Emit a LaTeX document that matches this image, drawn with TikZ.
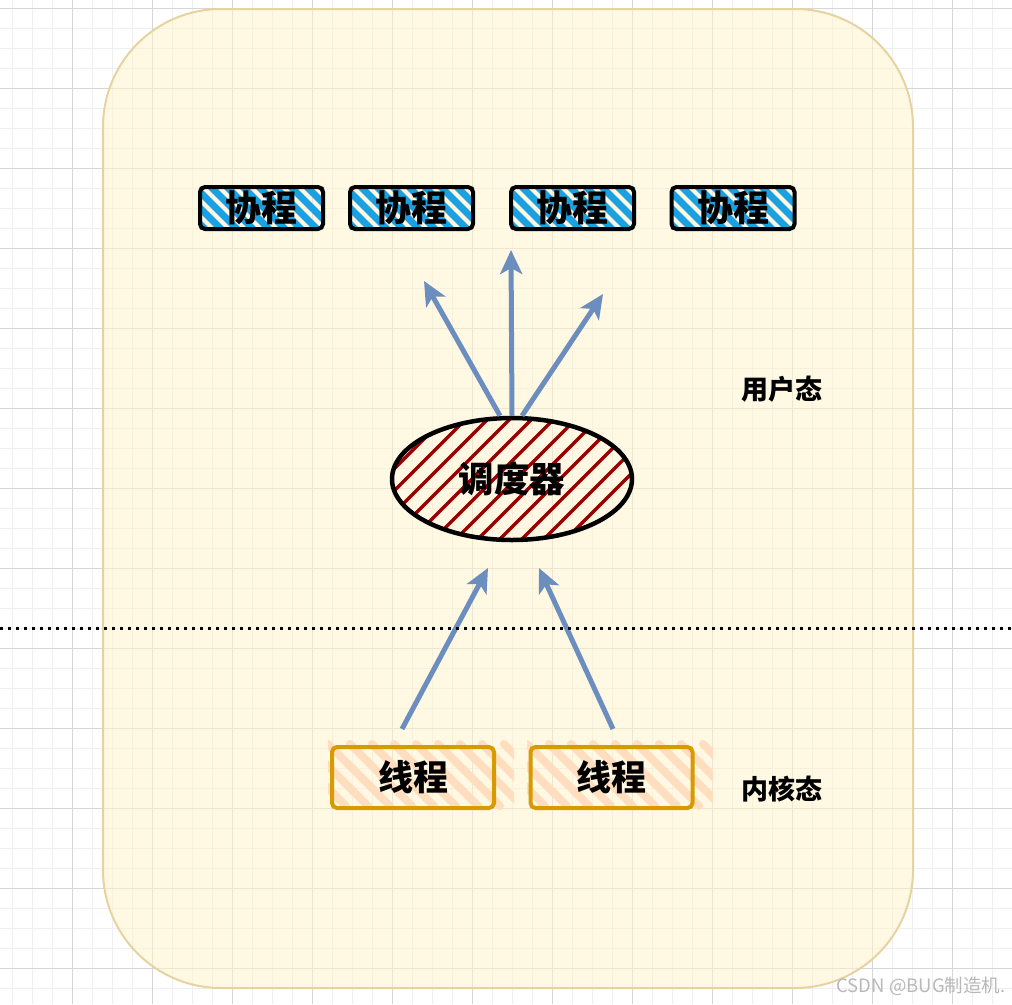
\documentclass[tikz,border=0pt]{standalone}
\usepackage{fontspec}
\newfontfamily\cjk{Noto Sans CJK SC}
\usetikzlibrary{arrows.meta,shapes.geometric}
\definecolor{gridminor}{HTML}{EFEFEF}
\definecolor{gridmajor}{HTML}{D6D6D6}
\definecolor{contfill}{HTML}{FFF2CC}
\definecolor{contdraw}{HTML}{E6D3A0}
\definecolor{corblue}{HTML}{1BA1E2}
\definecolor{schedred}{HTML}{990000}
\definecolor{thrdraw}{HTML}{D79B00}
\definecolor{thrfill}{HTML}{FFDDBF}
\definecolor{arrowblue}{HTML}{6C8EBF}
\definecolor{wmgray}{HTML}{B8B8B8}
\tikzset{
  corbox/.style={draw=black, line width=4pt, rounded corners=5pt, minimum width=123pt, minimum height=42pt, inner sep=0pt, font=\cjk\bfseries\fontsize{36}{36}\selectfont},
  thrbox/.style={draw=thrdraw, line width=4pt, rounded corners=5pt, minimum width=162pt, minimum height=61pt, inner sep=0pt, font=\cjk\bfseries\fontsize{35}{35}\selectfont},
  schedell/.style={draw=black, line width=4.5pt, ellipse, minimum width=240pt, minimum height=122pt, inner sep=0pt, font=\cjk\bfseries\fontsize{35.5}{35.5}\selectfont},
  flowarrow/.style={draw=arrowblue, line width=5pt, -{Stealth[length=24pt,width=22pt,inset=6pt]}},
  statelabel/.style={font=\cjk\bfseries\fontsize{27}{27}\selectfont},
}
\begin{document}
\begin{tikzpicture}[x=1pt,y=-1pt]
\useasboundingbox (0,0) rectangle (1012,1004);
% grid
\foreach \gx in {12,32,...,1012} \draw[gridminor, line width=1pt] (\gx,0) -- (\gx,1004);
\foreach \gy in {8,28,...,1004} \draw[gridminor, line width=1pt] (0,\gy) -- (1012,\gy);
\foreach \gx in {72,152,...,1012} \draw[gridmajor, line width=1pt] (\gx,0) -- (\gx,1004);
\foreach \gy in {8,88,...,1004} \draw[gridmajor, line width=1pt] (0,\gy) -- (1012,\gy);
% container
\draw[contdraw, line width=2pt, fill=contfill, fill opacity=0.55, rounded corners=118pt] (103,9) rectangle (913,988);
% coroutine stripes
\foreach \cx in {200,350,511,671}{
  \begin{scope}
    \clip (\cx,187) rectangle ++(124,42);
    \foreach \s in {-60,-44,...,140} \draw[corblue, line width=7pt] (\cx+\s,180) -- ++(50,50);
  \end{scope}
}
\node[corbox] (c1) at (261.5,208) {协程};
\node[corbox] (c2) at (411.5,208) {协程};
\node[corbox] (c3) at (572.5,208) {协程};
\node[corbox] (c4) at (733,208) {协程};
% scheduler stripes
\begin{scope}
  \clip (512,479) ellipse [x radius=120pt, y radius=61pt];
  \foreach \s in {-10,12,...,380} \draw[schedred, line width=3.5pt] (392+\s,415) -- ++(-135,135);
\end{scope}
\node[schedell] (s) at (512,479) {调度器};
% thread stripes
\foreach \tx in {332,531}{
  \begin{scope}
    \clip (\tx-4,740) rectangle ++(186,72);
    \foreach \s in {-70,-48,...,180} \draw[thrfill, line width=8pt, line cap=round] (\tx+\s,744) -- ++(62,62);
  \end{scope}
}
\node[thrbox] (t1) at (413,777.5) {线程};
\node[thrbox] (t2) at (611.5,777.5) {线程};
% arrow endpoints
\coordinate (a1) at (424,281);
\coordinate (a2) at (511,250);
\coordinate (a3) at (603,294);
\coordinate (b1) at (488,568);
\coordinate (b2) at (539,568);
\coordinate (t1s) at (402,729);
\coordinate (t2s) at (613,729);
\draw[flowarrow] (s.north) ++(-12,0) -- (a1);
\draw[flowarrow] (s.north) -- (a2);
\draw[flowarrow] (s.north) ++(10,0) -- (a3);
\draw[flowarrow] (t1s) -- (b1);
\draw[flowarrow] (t2s) -- (b2);
% dotted divider
\coordinate (dl) at (0,628);
\coordinate (dr) at (1012,628);
\draw[black, line width=3pt, dash pattern=on 3pt off 5pt] (dl) -- (dr);
% labels
\node[statelabel] (u) at (782,389) {用户态};
\node[statelabel] (k) at (782,789) {内核态};
\node[font=\fontsize{18.5}{18.5}\selectfont\cjk, text=wmgray, anchor=east] (wm) at (1009,986) {CSDN @BUG制造机.};
\end{tikzpicture}
\end{document}
